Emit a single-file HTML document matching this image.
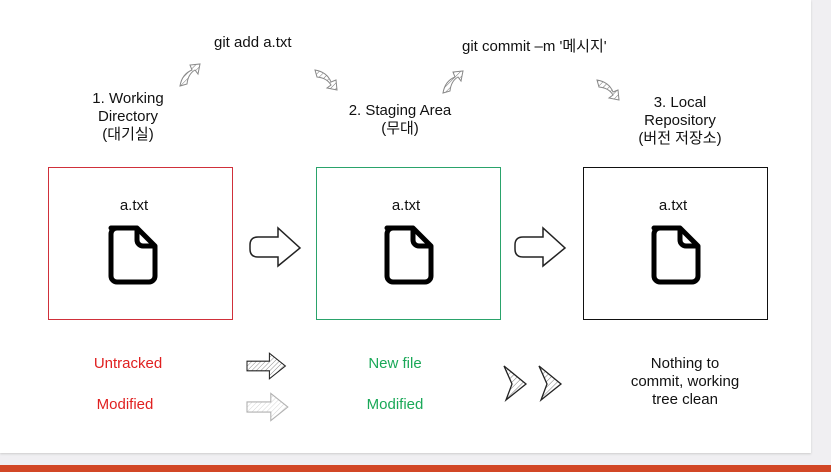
<!DOCTYPE html>
<html><head><meta charset="utf-8"><style>
body{margin:0;width:831px;height:472px;background:#f0eff2;position:relative;overflow:hidden;font-family:"Liberation Sans","Noto Sans CJK KR",sans-serif;}
.slide{position:absolute;left:0;top:0;width:811px;height:453px;background:#fff;box-shadow:0 1px 2px #ccc;}
.t{position:absolute;font-size:15px;color:#111;text-align:center;line-height:18px;white-space:nowrap}
.box{position:absolute;top:167px;width:183px;height:151px;border:1.5px solid}
.bar{position:absolute;left:0;top:465px;width:831px;height:7px;background:#d24726}
</style></head><body>
<div class="slide"></div>
<div class="bar"></div>
<div class="t" style="left:214px;top:34px">git add a.txt</div>
<div class="t" style="left:462px;top:38px">git commit –m '메시지'</div>
<div class="t" style="left:78px;top:90px;width:100px">1. Working<br>Directory<br>(대기실)</div>
<div class="t" style="left:335px;top:102px;width:130px">2. Staging Area<br>(무대)</div>
<div class="t" style="left:620px;top:94px;width:120px">3. Local<br>Repository<br>(버전 저장소)</div>
<div class="box" style="left:48px;border-color:#d0303a"></div>
<div class="box" style="left:316px;border-color:#2aa36b"></div>
<div class="box" style="left:583px;border-color:#111"></div>
<div class="t" style="left:41px;top:197px;width:186px">a.txt</div>
<div class="t" style="left:313px;top:197px;width:186px">a.txt</div>
<div class="t" style="left:580px;top:197px;width:186px">a.txt</div>
<svg width="831" height="472" style="position:absolute;left:0;top:0">
<defs><pattern id="h" width="4" height="4" patternUnits="userSpaceOnUse" patternTransform="rotate(45)"><line x1="0" y1="0" x2="0" y2="4" stroke="#777" stroke-width="1"/></pattern>
<g id="f"><path d="M-22 -26 h26 l18 18 v30 a6 6 0 0 1 -6 6 h-32 a6 6 0 0 1 -6 -6 v-42 a6 6 0 0 1 6 -6z M4 -26 v12 a6 6 0 0 0 6 6 h12" fill="none" stroke="#000" stroke-width="5" stroke-linejoin="round"/></g>
<path id="ba" d="M0 -6 h28 v-10 l20 16 l-20 16 v-10 h-28z" stroke="#222" stroke-width="1.3" fill="url(#h)"/></defs>
<use href="#f" x="133" y="254"/><use href="#f" x="409" y="254"/><use href="#f" x="676" y="254"/>
<g transform="translate(250,253)"><path d="M0 -8 q0-8 8-8 h20 v-9 l22 20 l-22 18 v-9 h-20 q-8 0 -8 -8z" stroke="#222" stroke-width="1.5" fill="#fff"/></g>
<g transform="translate(515,253)"><path d="M0 -8 q0-8 8-8 h20 v-9 l22 20 l-22 18 v-9 h-20 q-8 0 -8 -8z" stroke="#222" stroke-width="1.5" fill="#fff"/></g>
<g transform="translate(247,366) scale(0.8)"><use href="#ba"/></g>
<g transform="translate(247,407) scale(0.85)" opacity="0.35"><use href="#ba"/></g>
<path d="M504 366 l22 18 l-20 16 l6 -16z" stroke="#222" stroke-width="1.3" fill="url(#h)"/>
<path d="M539 366 l22 18 l-20 16 l6 -16z" stroke="#222" stroke-width="1.3" fill="url(#h)"/>
<g stroke="#888" stroke-width="1" fill="url(#h)">
<path d="M180 86 q2 -12 12 -16 l-2 -5 l10 -1 l-2 10 l-3 -4 q-7 4 -8 14z"/>
<path d="M315 70 q12 2 16 12 l5 -2 l1 10 l-10 -2 l4 -3 q-4 -7 -14 -8z"/>
<path d="M443 93 q2 -12 12 -16 l-2 -5 l10 -1 l-2 10 l-3 -4 q-7 4 -8 14z"/>
<path d="M597 80 q12 2 16 12 l5 -2 l1 10 l-10 -2 l4 -3 q-4 -7 -14 -8z"/>
</g>
</svg>
<div class="t" style="left:48px;top:355px;width:160px;color:#e02020;font-size:15px">Untracked</div>
<div class="t" style="left:45px;top:396px;width:160px;color:#e02020;font-size:15px">Modified</div>
<div class="t" style="left:315px;top:355px;width:160px;color:#1aa858;font-size:15px">New file</div>
<div class="t" style="left:315px;top:396px;width:160px;color:#1aa858;font-size:15px">Modified</div>
<div class="t" style="left:620px;top:355px;width:130px;font-size:15px;line-height:18px">Nothing to<br>commit, working<br>tree clean</div>
</body></html>
